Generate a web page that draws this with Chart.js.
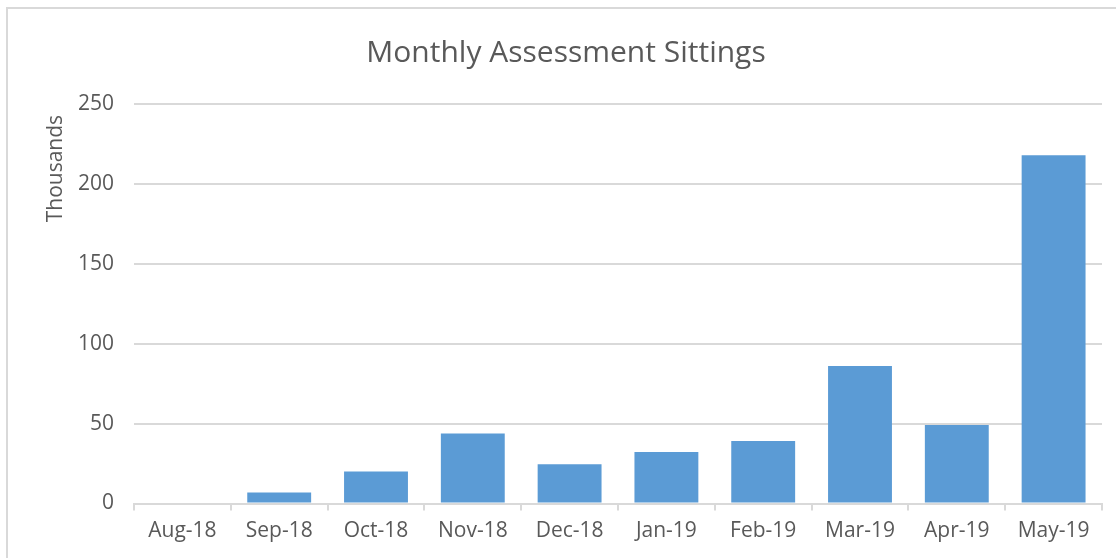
<!DOCTYPE html>
<html>
<head>
<meta charset="utf-8">
<script src="https://cdn.jsdelivr.net/npm/chart.js@4"></script>
<style>
  html, body { margin: 0; padding: 0; background: #fff; }
  #frame { position: absolute; left: 6px; top: 7px; width: 1200px; height: 700px;
           border-left: 2px solid #d9d9d9; border-top: 2px solid #d9d9d9; }
  #box { position: absolute; left: 0; top: 0; width: 1116px; height: 558px; }
</style>
</head>
<body>
<div id="frame"></div>
<div id="box"><canvas id="sittings"></canvas></div>
<script>
const months = ['Aug-18', 'Sep-18', 'Oct-18', 'Nov-18', 'Dec-18', 'Jan-19', 'Feb-19', 'Mar-19', 'Apr-19', 'May-19'];
const sittings = [0, 6.9, 20, 43.8, 24.6, 32.3, 39.1, 86, 49.1, 217.9];
const yTicks = [0, 50, 100, 150, 200, 250];

const textColor = '#595959';
const lineColor = '#d9d9d9';
const font = { family: '"Open Sans", sans-serif', size: 21 };

new Chart(document.getElementById('sittings'), {
  type: 'bar',
  data: {
    labels: months,
    datasets: [
      {
        label: 'Sittings',
        backgroundColor: '#5b9bd5',
        data: sittings,
        categoryPercentage: 1,
        barPercentage: 0.66,
      }
    ]
  },
  options: {
    responsive: true,
    maintainAspectRatio: false,
    animation: false,
    layout: { padding: { left: 30, right: 14, top: 0, bottom: 0 } },
    plugins: {
      legend: { display: false },
      tooltip: { enabled: false },
      title: {
        display: true,
        text: 'Monthly Assessment Sittings',
        color: textColor,
        font: { family: '"Open Sans", sans-serif', size: 30, weight: 'normal' },
        padding: { top: 35, bottom: 33 },
      }
    },
    scales: {
      x: {
        grid: { offset: true, drawOnChartArea: false, drawTicks: true, tickLength: 7, color: lineColor, lineWidth: 2 },
        border: { color: lineColor, width: 2 },
        ticks: { color: textColor, font: font, padding: 8, maxRotation: 0 },
        afterFit: (scale) => { scale.height = 54.5; },
      },
      y: {
        min: yTicks[0],
        max: yTicks[yTicks.length - 1],
        grid: { color: lineColor, lineWidth: 2, drawTicks: false },
        border: { display: false },
        ticks: { stepSize: 50, color: textColor, font: font, padding: 20 },
        title: {
          display: true,
          text: 'Thousands  ',
          align: 'end',
          color: textColor,
          font: font,
          padding: { top: 13, bottom: 0 },
        },
        afterFit: (scale) => { scale.width = 104; },
      }
    }
  }
});
</script>
</body>
</html>
